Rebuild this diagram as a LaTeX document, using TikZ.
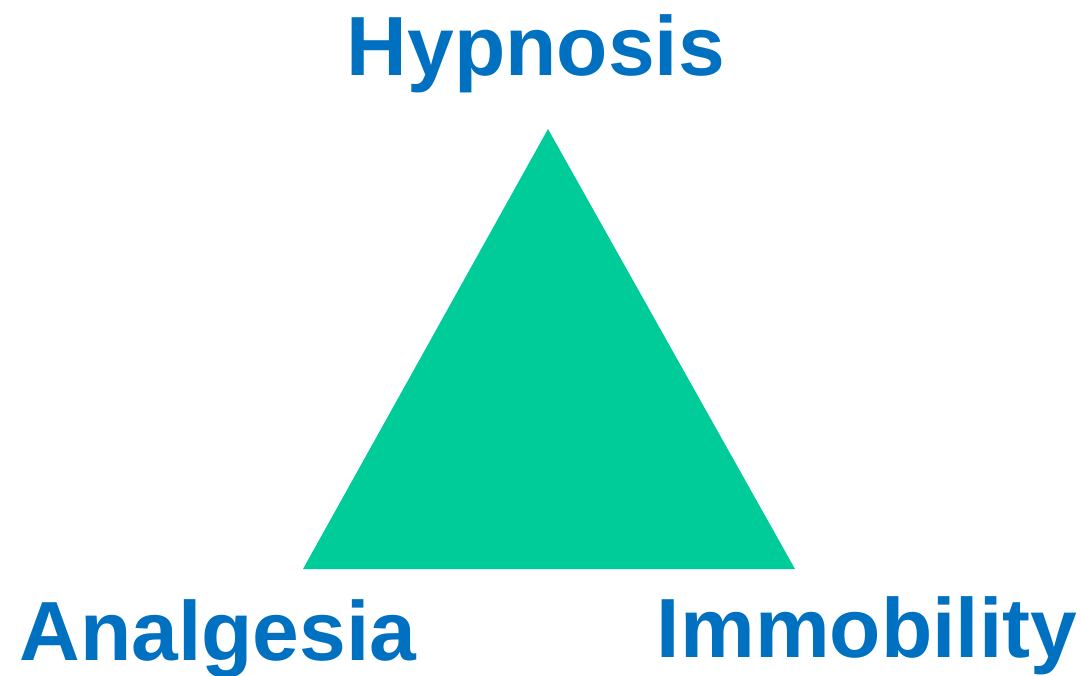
\documentclass[tikz,border=0pt]{standalone}
\usepackage{fontspec}
\setmainfont{Liberation Sans}
\usepackage{tikz}
\usepackage{xcolor}
\usetikzlibrary{positioning}
\definecolor{Mint}{HTML}{00CC99}
\definecolor{Blue}{HTML}{0070C0}

\begin{document}
\begin{tikzpicture}[x=0.5pt,y=-0.5pt,
  corner/.style={Blue,inner sep=0pt,anchor=base,font=\fontsize{42}{50}\selectfont\bfseries}]
  \useasboundingbox (0,0) rectangle (1081,675);
  \coordinate (top) at (548,129);
  \coordinate (left) at (303,569);
  \coordinate (right) at (795,569);
  \fill[Mint] (top) -- (left) -- (right) -- cycle;
  \node[corner] (hyp) at (536,75) {Hypnosis};
  \node[corner] (ana) at (218,660) {Analgesia};
  \node[corner] (imm) at (867,657) {Immobility};
\end{tikzpicture}
\end{document}
